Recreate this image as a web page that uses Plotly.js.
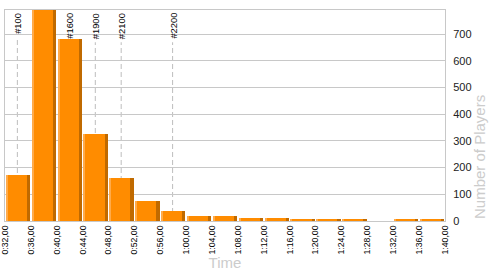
<!DOCTYPE html>
<html>
<head>
<meta charset="utf-8">
<script src="https://cdn.plot.ly/plotly-3.0.1.min.js"></script>
<style>html,body{margin:0;padding:0;background:#fff;}#chart{width:500px;height:275px;}</style>
</head>
<body>
<div id="chart"></div>
<script>
// Bin start times in seconds (4-second bins)
var binStarts = [32, 36, 40, 44, 48, 52, 56, 60, 64, 68, 72, 76, 80, 84, 88, 92, 96];
var players   = [173, 800, 682, 326, 161, 75, 39, 20, 20, 11, 11, 7, 7, 7, 0, 7, 7];
var tickSecs  = [32, 36, 40, 44, 48, 52, 56, 60, 64, 68, 72, 76, 80, 84, 88, 92, 96, 100];
var tickLabels = ["0:32,00","0:36,00","0:40,00","0:44,00","0:48,00","0:52,00","0:56,00",
  "1:00,00","1:04,00","1:08,00","1:12,00","1:16,00","1:20,00","1:24,00","1:28,00",
  "1:32,00","1:36,00","1:40,00"];
var rankLabels = ["#100", "#1600", "#1900", "#2100", "#2200"];
var rankTimes  = [33.9, 41.85, 45.95, 49.95, 57.9];

var BIN = 4;
var mainColor = "#ff8c00", lightColor = "#ffab4a", darkColor = "#c06a00";

function barTrace(color, off, w) {
  return {
    type: "bar", x: binStarts, y: players,
    offset: off, width: w,
    marker: {color: color, line: {width: 0}},
    hoverinfo: "x+y", showlegend: false
  };
}
var traces = [
  barTrace(mainColor, 0.12, BIN - 0.24),
  barTrace(lightColor, 0.12, 0.3),
  barTrace(darkColor, BIN - 0.12 - 0.5, 0.5)
];

var plotH = 275 - 10 - 54;
var shapes = [], annotations = [];
rankLabels.forEach(function (lab, i) {
  var topPx = 3 + lab.length * 5.25 + 3;
  shapes.push({
    type: "line", layer: "below", xref: "x", yref: "paper",
    x0: rankTimes[i], x1: rankTimes[i], y0: 0, y1: 1 - topPx / plotH,
    line: {color: "#bdbdbd", width: 1, dash: "5px,3px"}
  });
  annotations.push({
    xref: "x", yref: "paper", x: rankTimes[i], y: 1, yanchor: "top", xanchor: "center",
    text: lab, textangle: -90, showarrow: false, yshift: -1,
    font: {family: "Liberation Sans, Arial, sans-serif", size: 9.4, color: "#000"}
  });
});
annotations.push({
  xref: "paper", yref: "paper", x: 1, xshift: 34, y: 0, yanchor: "bottom", xanchor: "center",
  text: "Number of Players", textangle: -90, showarrow: false,
  font: {family: "Liberation Sans, Arial, sans-serif", size: 15, color: "#cccccc"}
});

var layout = {
  width: 500, height: 275,
  margin: {l: 5, r: 55, t: 10, b: 54},
  paper_bgcolor: "#fff", plot_bgcolor: "#fff",
  barmode: "overlay", bargap: 0,
  font: {family: "Liberation Sans, Arial, sans-serif", color: "#222"},
  xaxis: {
    range: [31.99, 100.01], tickmode: "array", tickvals: tickSecs, ticktext: tickLabels,
    tickangle: -90, tickfont: {size: 8.7, color: "#000"}, ticklabeloverflow: "allow",
    showgrid: false, zeroline: false, showline: true, mirror: true,
    linecolor: "#c8c8c8", linewidth: 1, ticks: "",
    title: {text: "Time", standoff: 4, font: {size: 15, color: "#cccccc"}}
  },
  yaxis: {
    side: "right", range: [0, 790], dtick: 100, tick0: 0,
    gridcolor: "#c8c8c8", gridwidth: 1, zeroline: false,
    showline: true, mirror: true, linecolor: "#c8c8c8", linewidth: 1,
    ticks: "", ticklabelstandoff: 5, tickfont: {size: 11, color: "#222"}
  },
  shapes: shapes, annotations: annotations
};

Plotly.newPlot("chart", traces, layout, {staticPlot: true, displayModeBar: false});
</script>
</body>
</html>
